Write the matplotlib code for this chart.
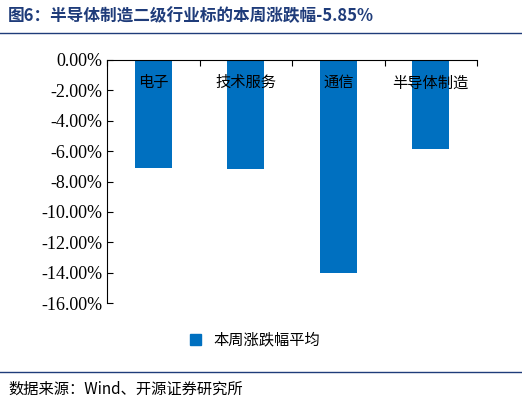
import matplotlib
matplotlib.use("Agg")
import matplotlib.pyplot as plt
from matplotlib.lines import Line2D

categories = ["电子", "技术服务", "通信", "半导体制造"]
values = [-7.13, -7.17, -14.0, -5.85]
series_name = "本周涨跌幅平均"

cjk = ["Noto Sans CJK SC", "DejaVu Sans"]

fig = plt.figure(figsize=(5.22, 4.05), dpi=100)
ax = fig.add_axes([107/522, 1 - 303/405, (477-107)/522, (303-60)/405])

x = range(len(categories))
ax.bar(x, values, width=0.4, color="#0070C0", label=series_name)
ax.set_xlim(-0.5, len(categories) - 0.5)
ax.set_ylim(-16, 0)
ticks = list(range(-16, 1, 2))
ax.set_yticks(ticks)
ax.set_yticklabels([f"{v:.2f}%" for v in ticks])
for lbl in ax.get_yticklabels():
    lbl.set_fontname("Liberation Serif")
    lbl.set_fontsize(13)
ax.set_xticks([i + 0.5 for i in range(-1, len(categories))])
ax.set_xticklabels([])
ax.xaxis.tick_top()
ax.tick_params(axis="x", direction="in", length=4)
ax.tick_params(axis="y", direction="in", length=4)
for s in ["bottom", "right"]:
    ax.spines[s].set_visible(False)
for i, c in enumerate(categories):
    ax.text(i, -1.5, c, ha="center", va="center", fontfamily=cjk, fontsize=11)

fig.legend(handles=[plt.Rectangle((0, 0), 1, 1, color="#0070C0")], labels=[series_name],
           loc="center", bbox_to_anchor=(255/522, 1 - 340/405), frameon=False,
           prop={"family": cjk, "size": 11}, handlelength=0.7, handleheight=0.7)

fig.text(8/522, 1 - 16/405, "图6：半导体制造二级行业标的本周涨跌幅-5.85%", fontfamily=cjk,
         fontsize=12, fontweight="bold", color="#1F3C7A", va="center")
fig.add_artist(Line2D([0, 1], [1 - 33/405] * 2, color="#1F3C7A", lw=1))
fig.add_artist(Line2D([0, 1], [1 - 372/405] * 2, color="#1F3C7A", lw=1))
fig.text(8/522, 1 - 389/405, "数据来源：Wind、开源证券研究所", fontfamily=cjk, fontsize=11, va="center")

fig.savefig("out.png", dpi=100)
